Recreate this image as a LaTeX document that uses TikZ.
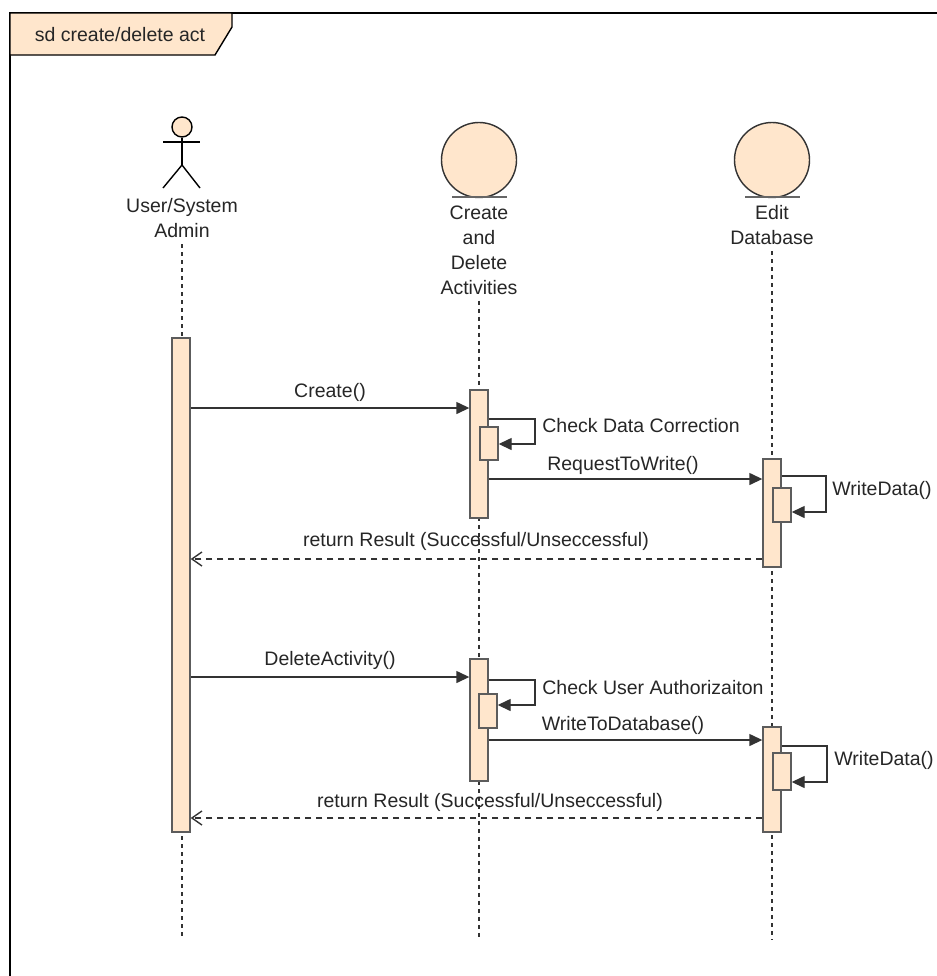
\documentclass[tikz,border=0pt]{standalone}
\usepackage{fontspec}
\setmainfont{Liberation Sans}
\usepackage{tikz}
\usetikzlibrary{arrows.meta}
\definecolor{peach}{HTML}{FFE6CC}
\definecolor{edge}{HTML}{333333}

\tikzset{
  bar/.style={draw=edge!80, fill=peach, minimum width=9pt, inner sep=0pt, line width=0.7pt},
  control/.style={draw=edge, fill=peach, circle, minimum size=37.5pt, inner sep=0pt, line width=0.7pt},
  msg/.style={-{Triangle[length=6.5pt,width=6pt]}, line width=0.7pt, edge},
  reply/.style={-{Straight Barb[length=5pt,width=7pt]}, dash pattern=on 3pt off 2.5pt, line width=0.7pt, edge},
  lifeline/.style={dash pattern=on 2pt off 2pt, line width=0.7pt, edge},
  lbl/.style={inner sep=0pt, text=black!85}
}

\begin{document}
\begin{tikzpicture}[x=0.5pt, y=-0.5pt, font=\fontsize{9.75}{12.5}\selectfont]
  \useasboundingbox (0,0) rectangle (937,976);
  \fill [white] (0,0) rectangle (937,976);

  % frame and its tag
  \draw [line width=1pt] (10,976) -- (10,13) -- (937,13);
  \draw [fill=peach, line width=0.7pt] (10,13) -- (232,13) -- (232,27) -- (215,55) -- (10,55) -- cycle;
  \node [lbl] (frametag) at (120,35) {sd create/delete act};

  % actor
  \node [draw, circle, fill=peach, minimum size=10pt, inner sep=0pt, line width=0.7pt] (admhead) at (182,127) {};
  \draw [line width=0.7pt] (admhead.south) -- (182,165) coordinate (hip);
  \draw [line width=0.7pt] (163,142) -- (200,142);
  \draw [line width=0.7pt] (163,188) -- (hip) -- (200,188);
  \node [lbl, align=center] (admlbl) at (182,218) {User/System\\Admin};

  % controls
  \node [control] (cdact) at (479,160) {};
  \draw [line width=0.9pt, black!60] (452,197) -- (507,197);
  \node [lbl, align=center] (cdlbl) at (479,250) {Create\\and\\Delete\\Activities};
  \node [control] (eddb) at (772,160) {};
  \draw [line width=0.9pt, black!60] (745,197) -- (800,197);
  \node [lbl, align=center] (edlbl) at (772,225) {Edit\\Database};

  % lifelines
  \coordinate (admend) at (182,940);
  \coordinate (cdend) at (479,940);
  \coordinate (edend) at (772,940);
  \draw [lifeline] (admlbl.south) ++(0,6) -- (admend);
  \draw [lifeline] (cdlbl.south) ++(0,6) -- (cdend);
  \draw [lifeline] (edlbl.south) ++(0,6) -- (edend);

  % activations
  \node [bar, minimum height=247pt] (adm) at (181,585) {};
  \node [bar, minimum height=64pt] (cd1) at (479,454) {};
  \node [bar, minimum height=16.5pt] (cd1n) at (489,443.5) {};
  \node [bar, minimum height=54pt] (ed1) at (772,513) {};
  \node [bar, minimum height=17pt] (ed1n) at (782,505) {};
  \node [bar, minimum height=61pt] (cd2) at (479,720) {};
  \node [bar, minimum height=17pt] (cd2n) at (488,711) {};
  \node [bar, minimum height=52.5pt] (ed2) at (772,779.5) {};
  \node [bar, minimum height=18.5pt] (ed2n) at (782,771.5) {};

  % create
  \draw [msg] (adm.east |- 0,408) -- (cd1.west |- 0,408);
  \node [lbl] (createlbl) at (330,392) {Create()};
  \draw [msg] (cd1.east |- 0,419) -- (535,419) -- (535,444) -- (cd1n.east |- 0,444);
  \node [lbl, anchor=west] (chk1lbl) at (542,426) {Check Data Correction};
  \draw [msg] (cd1.east |- 0,479) -- (ed1.west |- 0,479);
  \node [lbl] (reqlbl) at (623,465) {RequestToWrite()};
  \draw [msg] (ed1.east |- 0,476) -- (826,476) -- (826,512) -- (ed1n.east |- 0,512);
  \node [lbl, anchor=west] (wd1lbl) at (832,490) {WriteData()};
  \draw [reply] (ed1.west |- 0,559) -- (adm.east |- 0,559);
  \node [lbl] (ret1lbl) at (476,541) {return Result (Successful/Unseccessful)};

  % delete
  \draw [msg] (adm.east |- 0,677) -- (cd2.west |- 0,677);
  \node [lbl] (dellbl) at (330,660) {DeleteActivity()};
  \draw [msg] (cd2.east |- 0,680) -- (535,680) -- (535,705) -- (cd2n.east |- 0,705);
  \node [lbl, anchor=west] (chk2lbl) at (542,688) {Check User Authorizaiton};
  \draw [msg] (cd2.east |- 0,740) -- (ed2.west |- 0,740);
  \node [lbl] (wtdlbl) at (623,725) {WriteToDatabase()};
  \draw [msg] (ed2.east |- 0,746) -- (827,746) -- (827,782) -- (ed2n.east |- 0,782);
  \node [lbl, anchor=west] (wd2lbl) at (834,760) {WriteData()};
  \draw [reply] (ed2.west |- 0,818) -- (adm.east |- 0,818);
  \node [lbl] (ret2lbl) at (490,802) {return Result (Successful/Unseccessful)};
\end{tikzpicture}
\end{document}
